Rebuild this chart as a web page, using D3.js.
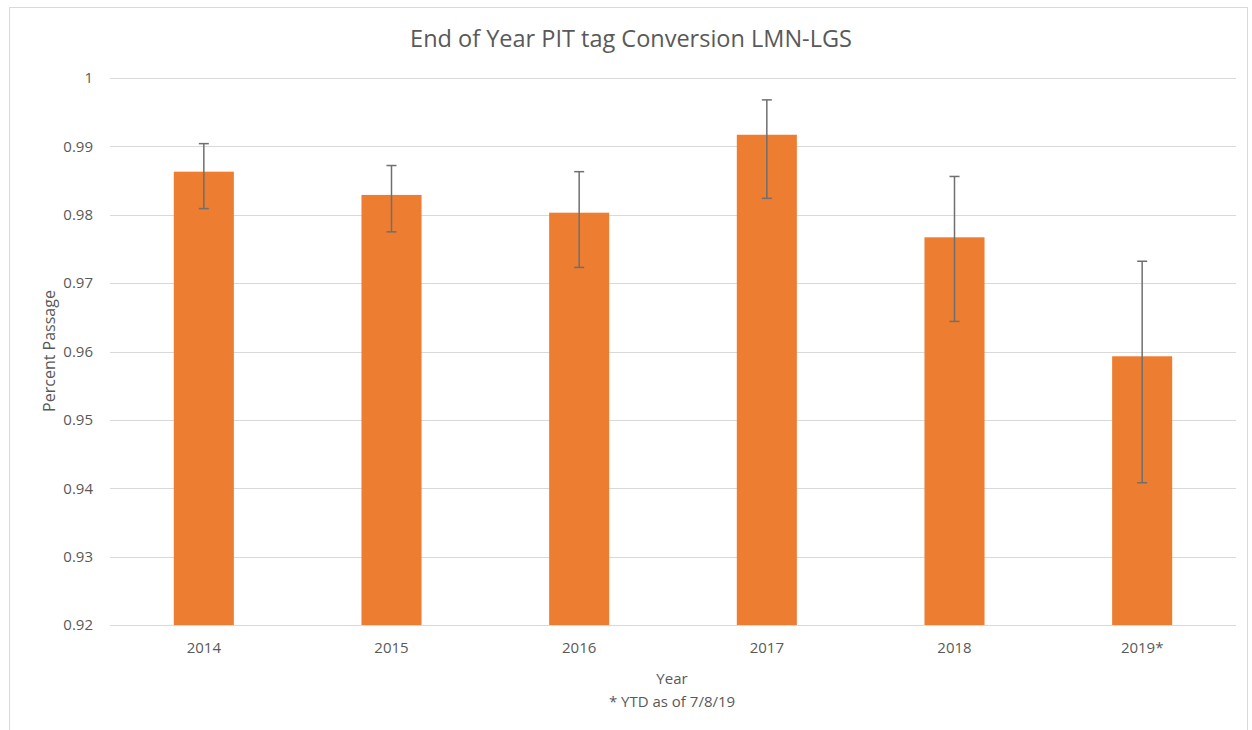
<!DOCTYPE html>
<html>
<head>
<meta charset="utf-8">
<script src="https://cdn.jsdelivr.net/npm/d3@7"></script>
<style>
  html, body { margin: 0; padding: 0; background: #fff; }
  svg { display: block; }
</style>
</head>
<body>
<svg id="chart" width="1252" height="730"></svg>
<script>
const years = ["2014", "2015", "2016", "2017", "2018", "2019*"];
const passage = [0.9863, 0.9829, 0.9803, 0.9917, 0.9767, 0.9593];
const errUpper = [0.9904, 0.9872, 0.9863, 0.9968, 0.9856, 0.9732];
const errLower = [0.9809, 0.9775, 0.9723, 0.9824, 0.9644, 0.9408];
const yTicks = [0.92, 0.93, 0.94, 0.95, 0.96, 0.97, 0.98, 0.99, 1];

const svg = d3.select("#chart");
const font = "Open Sans, Liberation Sans, sans-serif";
const textColor = "#595959";

// chart border
svg.append("rect")
  .attr("x", 9.5).attr("y", 7.5)
  .attr("width", 1238).attr("height", 740)
  .attr("fill", "#fff").attr("stroke", "#d9d9d9").attr("stroke-width", 1);

const plotLeft = 110, plotRight = 1236, plotTop = 78, plotBottom = 625;

const x = d3.scaleBand().domain(years).range([plotLeft, plotRight])
  .paddingInner(0.68).paddingOuter(0.34);
const y = d3.scaleLinear().domain([0.92, 1]).range([plotBottom, plotTop]);

// gridlines
svg.append("g").selectAll("line").data(yTicks).join("line")
  .attr("x1", plotLeft).attr("x2", plotRight)
  .attr("y1", d => Math.round(y(d)) + 0.5).attr("y2", d => Math.round(y(d)) + 0.5)
  .attr("stroke", "#d9d9d9").attr("stroke-width", 1);

// y axis labels
const yAxis = d3.axisLeft(y).tickValues(yTicks).tickSize(0).tickPadding(0)
  .tickFormat(d => d === 1 ? "1" : d3.format(".2f")(d));
const gy = svg.append("g").attr("transform", "translate(93,0)").call(yAxis);
gy.select(".domain").remove();
gy.selectAll("text").attr("font-family", font).attr("font-size", 15).attr("fill", textColor);

// x axis labels
const xAxis = d3.axisBottom(x).tickSize(0).tickPadding(0);
const gx = svg.append("g").attr("transform", "translate(0,642)").call(xAxis);
gx.select(".domain").remove();
gx.selectAll("text").attr("font-family", font).attr("font-size", 15).attr("fill", textColor);

// bars
svg.append("g").selectAll("rect").data(years).join("rect")
  .attr("x", d => x(d)).attr("width", x.bandwidth())
  .attr("y", (d, i) => y(passage[i]))
  .attr("height", (d, i) => y(0.92) - y(passage[i]))
  .attr("fill", "#ed7d31");

// error bars
const eb = svg.append("g").attr("stroke", "#6f6f6f").attr("stroke-width", 1.5);
years.forEach((d, i) => {
  const cx = x(d) + x.bandwidth() / 2;
  eb.append("line").attr("x1", cx).attr("x2", cx).attr("y1", y(errUpper[i])).attr("y2", y(errLower[i]));
  eb.append("line").attr("x1", cx - 5).attr("x2", cx + 5).attr("y1", y(errUpper[i])).attr("y2", y(errUpper[i]));
  eb.append("line").attr("x1", cx - 5).attr("x2", cx + 5).attr("y1", y(errLower[i])).attr("y2", y(errLower[i]));
});

// title
svg.append("text").attr("x", 631).attr("y", 47).attr("text-anchor", "middle")
  .attr("font-family", font).attr("font-size", 23.5).attr("fill", textColor)
  .text("End of Year PIT tag Conversion LMN-LGS");

// axis titles
svg.append("text").attr("x", 672).attr("y", 684).attr("text-anchor", "middle")
  .attr("font-family", font).attr("font-size", 15).attr("fill", textColor).text("Year");
svg.append("text").attr("x", 672).attr("y", 707).attr("text-anchor", "middle")
  .attr("font-family", font).attr("font-size", 15).attr("fill", textColor).text("* YTD as of 7/8/19");
svg.append("text").attr("transform", "translate(55,351) rotate(-90)").attr("text-anchor", "middle")
  .attr("font-family", font).attr("font-size", 16).attr("fill", textColor).text("Percent Passage");
</script>
</body>
</html>
